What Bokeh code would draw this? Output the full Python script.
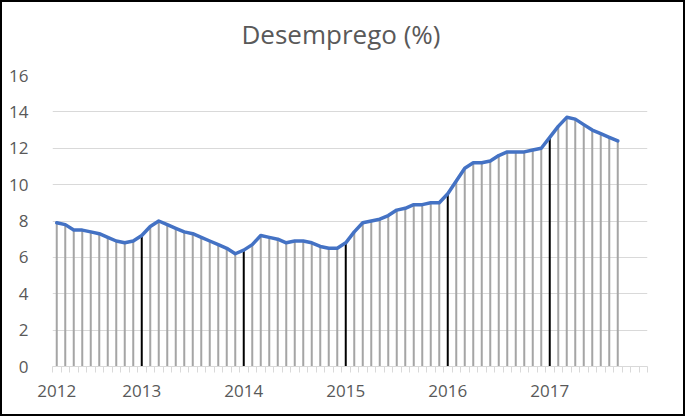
from bokeh.plotting import figure
from bokeh.models import Range1d, FixedTicker, ColumnDataSource, Title
from bokeh.embed import file_html
from bokeh.resources import INLINE

# Monthly unemployment rate (PNAD Contínua, rolling quarter), Mar 2012 - Sep 2017
months = (
    ["2012-%02d" % m for m in range(3, 13)]
    + ["2013-%02d" % m for m in range(1, 13)]
    + ["2014-%02d" % m for m in range(1, 13)]
    + ["2015-%02d" % m for m in range(1, 13)]
    + ["2016-%02d" % m for m in range(1, 13)]
    + ["2017-%02d" % m for m in range(1, 10)]
)
rate = [
    7.9, 7.8, 7.5, 7.5, 7.4, 7.3, 7.1, 6.9, 6.8, 6.9,
    7.2, 7.7, 8.0, 7.8, 7.6, 7.4, 7.3, 7.1, 6.9, 6.7, 6.5, 6.2,
    6.4, 6.7, 7.2, 7.1, 7.0, 6.8, 6.9, 6.9, 6.8, 6.6, 6.5, 6.5,
    6.8, 7.4, 7.9, 8.0, 8.1, 8.3, 8.6, 8.7, 8.9, 8.9, 9.0, 9.0,
    9.5, 10.2, 10.9, 11.2, 11.2, 11.3, 11.6, 11.8, 11.8, 11.8, 11.9, 12.0,
    12.6, 13.2, 13.7, 13.6, 13.3, 13.0, 12.8, 12.6, 12.4,
]
n_categories = 70  # axis runs Mar 2012 - Dec 2017
y_ticks = [0, 2, 4, 6, 8, 10, 12, 14, 16]
title_text = "Desemprego (%)"

idx = list(range(len(rate)))
is_jan = [m.endswith("-01") for m in months]
year_pos = [0] + [i for i, j in zip(idx, is_jan) if j]
year_lab = {i: months[i][:4] for i in year_pos}

gray_src = ColumnDataSource(dict(
    x=[i for i, j in zip(idx, is_jan) if not j],
    y=[v for v, j in zip(rate, is_jan) if not j],
))
black_src = ColumnDataSource(dict(
    x=[i for i, j in zip(idx, is_jan) if j],
    y=[v for v, j in zip(rate, is_jan) if j],
))
line_src = ColumnDataSource(dict(x=idx, y=rate))

p = figure(
    width=685, height=416,
    output_backend="svg", toolbar_location=None,
    x_range=Range1d(-0.5, n_categories - 0.5),
    y_range=Range1d(y_ticks[0], y_ticks[-1]),
    min_border_left=50, min_border_right=40,
    min_border_top=73, min_border_bottom=52,
    background_fill_color="white", border_fill_color="white",
)
p.styles = {"border": "2px solid black"}
p.outline_line_color = None

# spacer panel between the frame and the title, then the title itself
p.add_layout(Title(text=" ", text_font_size="20px", standoff=0), "above")
p.add_layout(Title(
    text=title_text, align="left", offset=189, standoff=0,
    text_font="Open Sans", text_font_size="26px", text_font_style="normal",
    text_color="#595959",
), "above")

p.segment(x0="x", y0=0, x1="x", y1="y", source=gray_src,
          line_color="#a5a5a5", line_width=2)
p.segment(x0="x", y0=0, x1="x", y1="y", source=black_src,
          line_color="black", line_width=2)
p.line("x", "y", source=line_src, line_color="#4472c4", line_width=3.5,
       line_join="round", line_cap="round")

# x axis
xt = FixedTicker(ticks=year_pos,
                 minor_ticks=[k - 0.5 for k in range(n_categories + 1)])
p.xaxis.ticker = xt
p.xaxis.major_label_overrides = year_lab
p.xaxis.major_tick_line_color = None
p.xaxis.minor_tick_line_color = "#d9d9d9"
p.xaxis.minor_tick_in = 0
p.xaxis.minor_tick_out = 6
p.xaxis.axis_line_color = "#d9d9d9"
p.xaxis.major_label_standoff = 12
p.xaxis.major_label_text_font = "Open Sans"
p.xaxis.major_label_text_font_size = "17px"
p.xaxis.major_label_text_color = "#595959"
p.xgrid.grid_line_color = None

# y axis
p.yaxis.ticker = FixedTicker(ticks=y_ticks)
p.yaxis.axis_line_color = None
p.yaxis.major_tick_line_color = None
p.yaxis.minor_tick_line_color = None
p.yaxis.major_label_standoff = 18
p.yaxis.major_label_text_font = "Open Sans"
p.yaxis.major_label_text_font_size = "17px"
p.yaxis.major_label_text_color = "#595959"
p.ygrid.grid_line_color = "#d9d9d9"
p.ygrid.grid_line_width = 1

open("out.html", "w").write(file_html(p, INLINE))
